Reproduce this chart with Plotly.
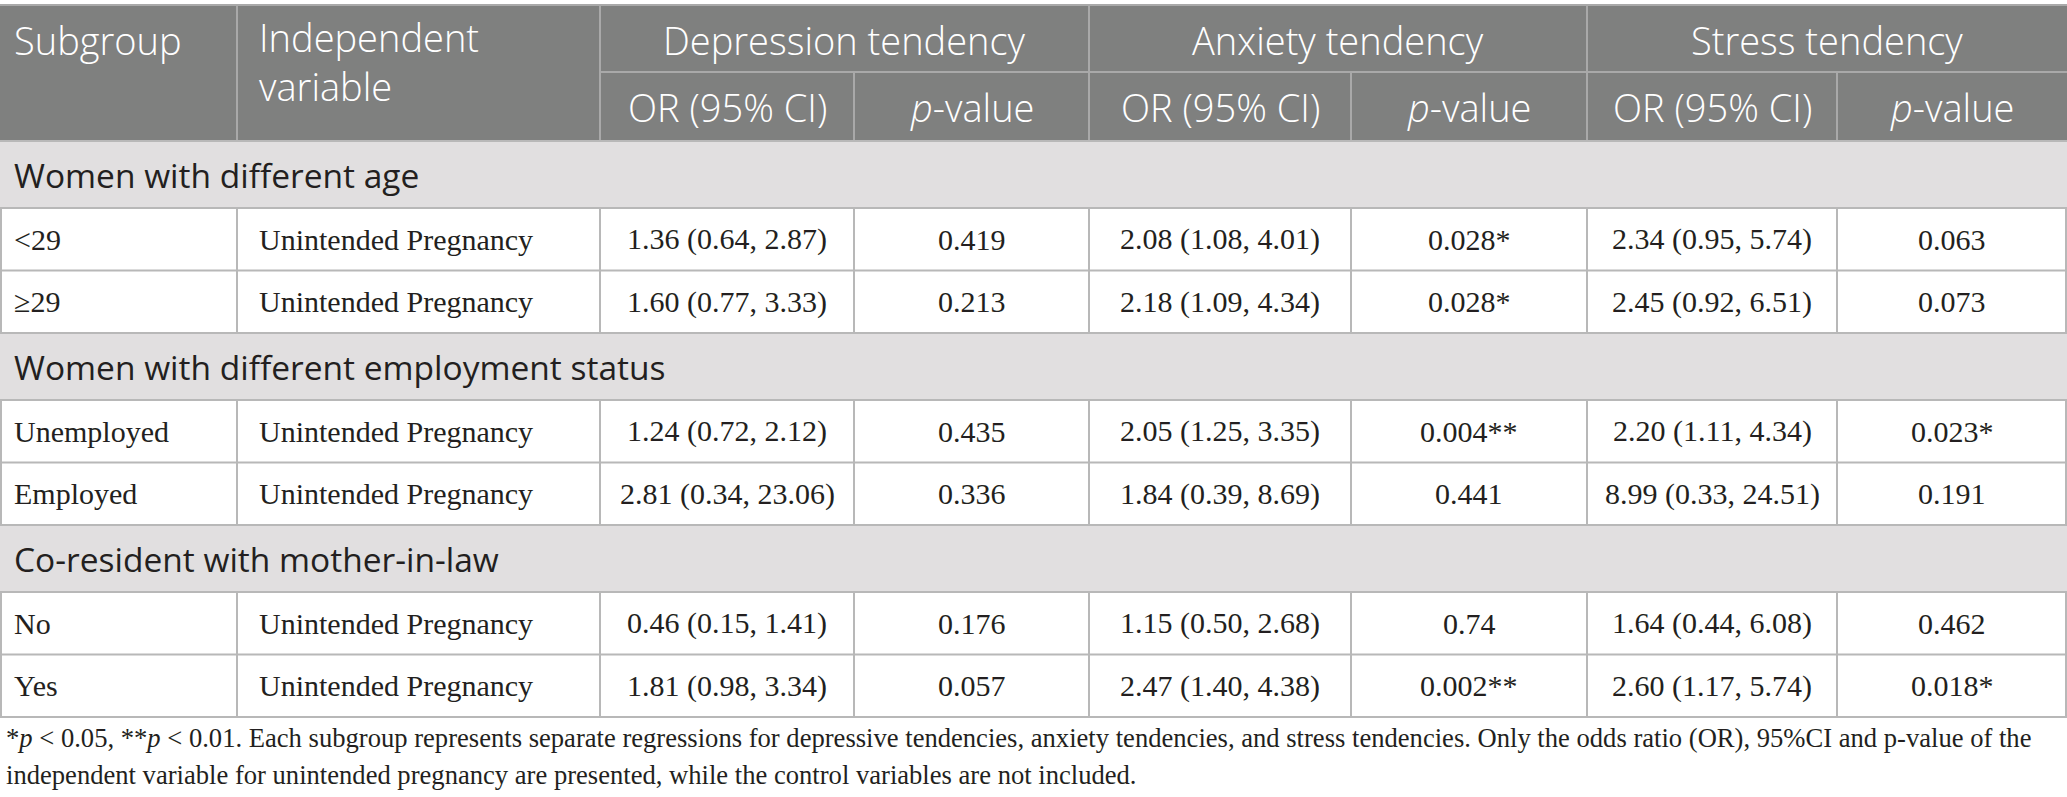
import plotly.graph_objects as go

# table content
sections = ["Women with different age",
            "Women with different employment status",
            "Co-resident with mother-in-law"]
subgroups = [["<29", "≥29"], ["Unemployed", "Employed"], ["No", "Yes"]]
indep_var = "Unintended Pregnancy"

outcomes = ["Depression tendency", "Anxiety tendency", "Stress tendency"]
sub_headers = ["OR (95% CI)", "<i>p</i>-value"]

dep_or = ["1.36 (0.64, 2.87)", "1.60 (0.77, 3.33)", "1.24 (0.72, 2.12)",
          "2.81 (0.34, 23.06)", "0.46 (0.15, 1.41)", "1.81 (0.98, 3.34)"]
dep_p = ["0.419", "0.213", "0.435", "0.336", "0.176", "0.057"]
anx_or = ["2.08 (1.08, 4.01)", "2.18 (1.09, 4.34)", "2.05 (1.25, 3.35)",
          "1.84 (0.39, 8.69)", "1.15 (0.50, 2.68)", "2.47 (1.40, 4.38)"]
anx_p = ["0.028*", "0.028*", "0.004**", "0.441", "0.74", "0.002**"]
str_or = ["2.34 (0.95, 5.74)", "2.45 (0.92, 6.51)", "2.20 (1.11, 4.34)",
          "8.99 (0.33, 24.51)", "1.64 (0.44, 6.08)", "2.60 (1.17, 5.74)"]
str_p = ["0.063", "0.073", "0.023*", "0.191", "0.462", "0.018*"]

footnote_lines = [
    "*<i>p</i> &lt; 0.05, **<i>p</i> &lt; 0.01. Each subgroup represents separate regressions for "
    "depressive tendencies, anxiety tendencies, and stress tendencies. Only the odds ratio (OR), "
    "95%CI and p-value of the",
    "independent variable for unintended pregnancy are presented, "
    "while the control variables are not included.",
]

# geometry
W, H = 2067, 797
col_x = [0, 237, 600, 854, 1089, 1351, 1587, 1837, 2067]
top, hdr_mid, hdr_bot = 5, 72, 141
sec_h, row_h = 67, 62.5

HDR_BG = "#7f807f"
HDR_LINE = "#a9a9a9"
SEC_BG = "#e1dfe0"
GRID = "#b8b8b8"
TXT = "#231f20"
SANS = "Open Sans"
SERIF = "Liberation Serif"

fig = go.Figure()
shapes, ann = [], []


def esc(s):
    return s.replace("<29", "&lt;29")


def rect(x0, y0, x1, y1, fill):
    shapes.append(dict(type="rect", xref="x", yref="y", x0=x0, y0=y0, x1=x1, y1=y1,
                       fillcolor=fill, line=dict(width=0), layer="below"))


def line(x0, y0, x1, y1, color, w=2):
    shapes.append(dict(type="line", xref="x", yref="y", x0=x0, y0=y0, x1=x1, y1=y1,
                       line=dict(color=color, width=w)))


def text(x, y, s, size, family, color, anchor="left", weight="normal"):
    ann.append(dict(x=x, y=y, xref="x", yref="y", text=s, showarrow=False,
                    xanchor=anchor, yanchor="middle", align="left",
                    font=dict(family=family, size=size, color=color, weight=weight)))


# header block
rect(0, top, W, hdr_bot, HDR_BG)
line(0, top, W, top, HDR_LINE)
line(col_x[2], hdr_mid, W, hdr_mid, HDR_LINE)
for i, x in enumerate(col_x[1:-1], start=1):
    y0 = hdr_mid if i in (3, 5, 7) else top
    line(x, y0, x, hdr_bot, HDR_LINE)

hdr_size = 38
hw = 300
text(12, 40, "Subgroup", hdr_size, SANS, "white", weight=hw)
text(col_x[1] + 20, 61, "Independent<br>variable", hdr_size, SANS, "white", weight=hw)
for k, name in enumerate(outcomes):
    xa, xb = col_x[2 + 2 * k], col_x[4 + 2 * k]
    text((xa + xb) / 2, 40, name, hdr_size, SANS, "white", "center", weight=hw)
    for j, sh in enumerate(sub_headers):
        c = 2 + 2 * k + j
        text((col_x[c] + col_x[c + 1]) / 2, 107, sh, hdr_size, SANS, "white", "center", weight=hw)

# body
y = hdr_bot
idx = 0
line(0, y, W, y, GRID)
for s, subs in zip(sections, subgroups):
    rect(0, y, W, y + sec_h, SEC_BG)
    text(12, y + sec_h / 2, s, 33.5, SANS, TXT)
    y += sec_h
    line(0, y, W, y, GRID)
    for sg in subs:
        yc = y + row_h / 2
        vals = [dep_or[idx], dep_p[idx], anx_or[idx], anx_p[idx], str_or[idx], str_p[idx]]
        text(12, yc, esc(sg), 30, SERIF, TXT)
        text(col_x[1] + 20, yc, indep_var, 30, SERIF, TXT)
        for c, v in enumerate(vals, start=2):
            text((col_x[c] + col_x[c + 1]) / 2, yc, v, 30, SERIF, TXT, "center")
        for x in col_x[1:-1]:
            line(x, y, x, y + row_h, GRID)
        line(1, y, 1, y + row_h, GRID)
        line(W - 1, y, W - 1, y + row_h, GRID)
        y += row_h
        line(0, y, W, y, GRID)
        idx += 1

for i, fl in enumerate(footnote_lines):
    text(4, 738 + 37 * i, fl, 26.6, SERIF, TXT)

fig.add_trace(go.Scatter(x=[0, W], y=[0, H], mode="markers",
                         marker=dict(opacity=0), hoverinfo="skip", showlegend=False))
fig.update_layout(
    width=W, height=H,
    margin=dict(l=0, r=0, t=0, b=0),
    paper_bgcolor="white", plot_bgcolor="white",
    xaxis=dict(range=[0, W], visible=False, fixedrange=True),
    yaxis=dict(range=[H, 0], visible=False, fixedrange=True),
    shapes=shapes, annotations=ann,
)
fig.write_html("out.html", config={"displayModeBar": False},
               post_script="document.body.style.margin='0';")
